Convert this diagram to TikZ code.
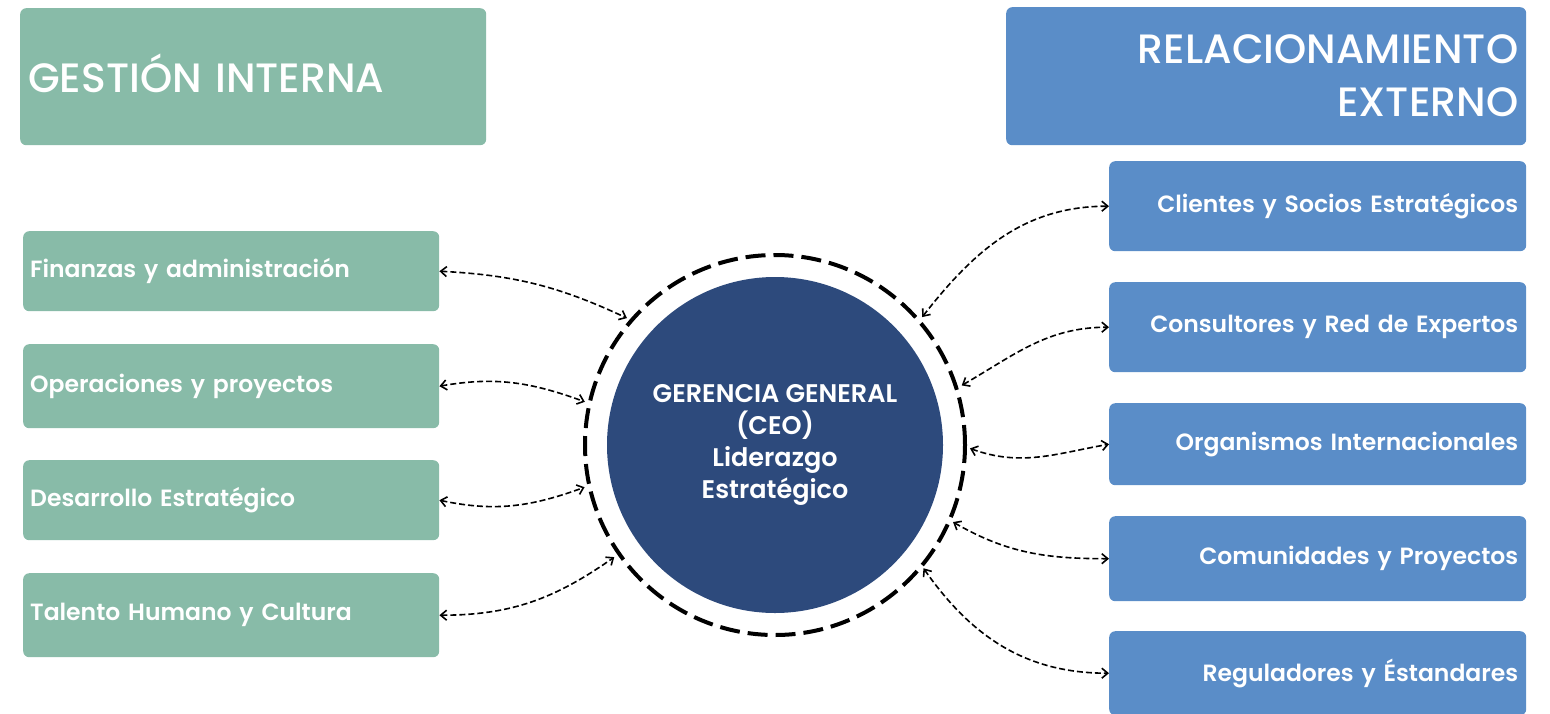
\documentclass[tikz,border=0pt]{standalone}
\usepackage{fontspec}
\setmainfont{Poppins}[BoldFont={Poppins SemiBold}]
\newfontfamily\titlefont{Poppins Medium}
\usetikzlibrary{arrows.meta}
\definecolor{gboxc}{RGB}{136,187,168}
\definecolor{bboxc}{RGB}{90,141,200}
\definecolor{ceoc}{RGB}{45,74,124}
\begin{document}
\begin{tikzpicture}[x=1pt,y=1pt,
  lbox/.style={rectangle, rounded corners=6, fill=gboxc, text=white, anchor=north west,
    text width=402, inner xsep=7, inner ysep=0, align=left,
    font=\bfseries\fontsize{23.5}{28}\selectfont},
  rbox/.style={rectangle, rounded corners=6, fill=bboxc, text=white, anchor=north west,
    text width=401, inner xsep=8, inner ysep=0, align=right,
    font=\bfseries\fontsize{23.5}{28}\selectfont},
  conn/.style={line width=1.6, dash pattern=on 6 off 3,
    {Straight Barb[length=6,width=10]}-{Straight Barb[length=6,width=10]}}]
\useasboundingbox (0,0) rectangle (1550,-713);
\clip (0,0) rectangle (1550,-713);
% titles
\node[rectangle, rounded corners=6, fill=gboxc, text=white, anchor=north west,
  text width=450, inner xsep=8, inner ysep=0, minimum height=137, align=left,
  font=\titlefont\fontsize{41}{45}\selectfont] (gi) at (20,-8) {\raisebox{6pt}{GESTIÓN INTERNA}};
\node[rectangle, rounded corners=6, fill=bboxc, text=white, anchor=north west,
  text width=504, inner xsep=8, inner ysep=0, minimum height=138, align=right,
  font=\titlefont\fontsize{41}{53}\selectfont] (re) at (1006,-7) {RELACIONAMIENTO\\EXTERNO};
% left boxes
\node[lbox, minimum height=80] (f1) at (23,-231) {Finanzas y administración};
\node[lbox, minimum height=84] (f2) at (23,-344) {Operaciones y proyectos};
\node[lbox, minimum height=80] (f3) at (23,-460) {Desarrollo Estratégico};
\node[lbox, minimum height=84] (f4) at (23,-573) {Talento Humano y Cultura};
% right boxes
\node[rbox, minimum height=90] (r1) at (1109,-161) {Clientes y Socios Estratégicos};
\node[rbox, minimum height=90] (r2) at (1109,-282) {Consultores y Red de Expertos};
\node[rbox, minimum height=82] (r3) at (1109,-403) {Organismos Internacionales};
\node[rbox, minimum height=85] (r4) at (1109,-516) {Comunidades y Proyectos};
\node[rbox, minimum height=84] (r5) at (1109,-631) {Reguladores y Éstandares};
% center
\node[circle, fill=ceoc, minimum size=336, inner sep=0, text=white, align=center,
  font=\bfseries\fontsize{25.5}{32}\selectfont] (ceo) at (775,-445)
  {GERENCIA GENERAL\\(CEO)\\Liderazgo\\Estratégico};
\node[circle, draw=black, line width=4, dash pattern=on 20 off 8, minimum size=380,
  inner sep=0] (ring) at (ceo.center) {};
% arrow end points on the ring
\coordinate (pl1) at ([shift={(139.4:195)}]ceo.center);
\coordinate (pl2) at ([shift={(167.2:195)}]ceo.center);
\coordinate (pl3) at ([shift={(192.5:195)}]ceo.center);
\coordinate (pl4) at ([shift={(214.9:196)}]ceo.center);
\coordinate (pr1) at ([shift={(41:195)}]ceo.center);
\coordinate (pr2) at ([shift={(17.7:196)}]ceo.center);
\coordinate (pr3) at ([shift={(-1:195)}]ceo.center);
\coordinate (pr4) at ([shift={(-23.4:194)}]ceo.center);
\coordinate (pr5) at ([shift={(-39.7:193)}]ceo.center);
% connectors
\draw[conn] (f1.east) to[out=-3,in=155] (pl1);
\draw[conn] (f2.east) to[out=10,in=160] (pl2);
\draw[conn] (f3.east) to[out=-12,in=200] (pl3);
\draw[conn] (f4.east) to[out=0,in=215] (pl4);
\draw[conn] (pr1) to[out=52,in=180] (r1.west);
\draw[conn] (pr2) to[out=30,in=180] (r2.west);
\draw[conn] (pr3) to[out=-20,in=190] (r3.west);
\draw[conn] (pr4) to[out=-30,in=180] (r4.west);
\draw[conn] (pr5) to[out=-55,in=180] (r5.west);
\end{tikzpicture}
\end{document}
